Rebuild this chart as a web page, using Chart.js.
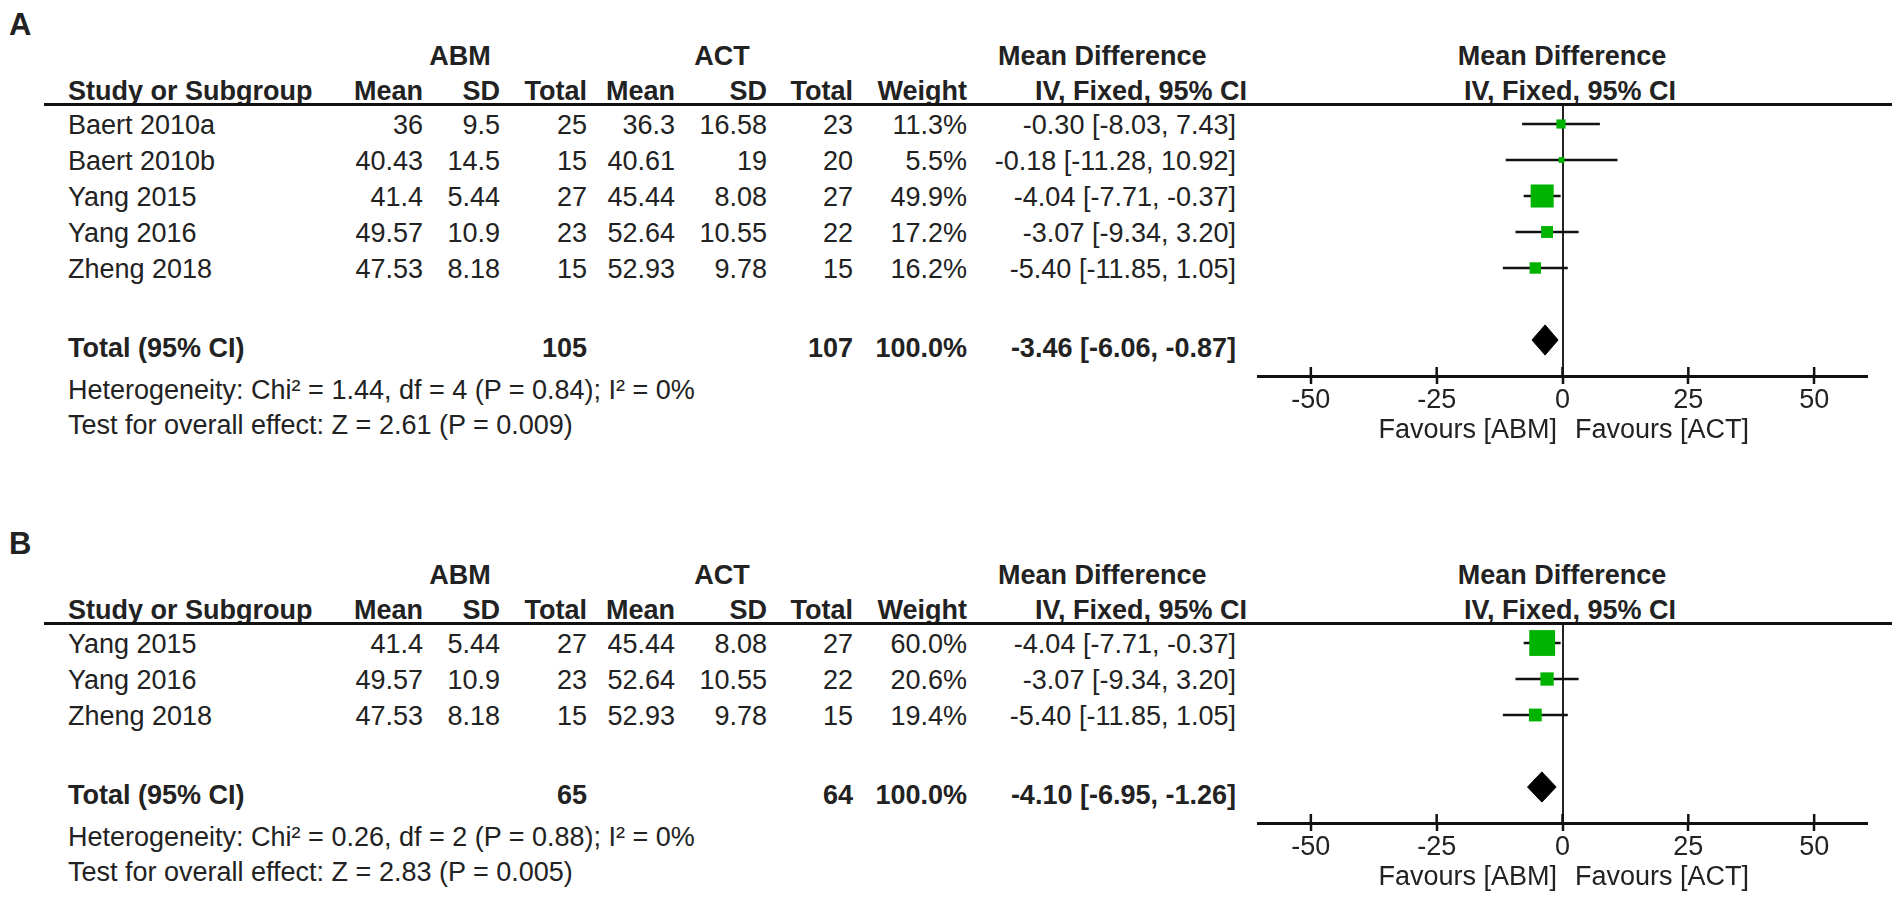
<!DOCTYPE html>
<html lang="en">
<head>
<meta charset="UTF-8">
<title>Forest plot: ABM vs ACT</title>
<script src="https://cdn.jsdelivr.net/npm/chart.js@4.4.0/dist/chart.umd.min.js"></script>
<style>
    body { margin: 0; background: #fff; }
    #page { position: relative; width: 1904px; height: 908px; overflow: hidden; background: #fff; }
    .txt { position: absolute; font-family: "Liberation Sans", Arial, sans-serif; font-size: 27px; line-height: 27px; color: #222; white-space: nowrap; }
    .b { font-weight: bold; }
    .rule { position: absolute; height: 3px; background: #111; z-index: 2; }
    canvas { position: absolute; }
</style>
</head>
<body>
<div id="page"></div>
<script>
// ---- Panel A data ----
const studiesA = ['Baert 2010a', 'Baert 2010b', 'Yang 2015', 'Yang 2016', 'Zheng 2018'];
const abmMeanA = [36, 40.43, 41.4, 49.57, 47.53];
const abmSdA = [9.5, 14.5, 5.44, 10.9, 8.18];
const abmNA = [25, 15, 27, 23, 15];
const actMeanA = [36.3, 40.61, 45.44, 52.64, 52.93];
const actSdA = [16.58, 19, 8.08, 10.55, 9.78];
const actNA = [23, 20, 27, 22, 15];
const weightA = [11.3, 5.5, 49.9, 17.2, 16.2];
const mdA = [-0.30, -0.18, -4.04, -3.07, -5.40];
const loA = [-8.03, -11.28, -7.71, -9.34, -11.85];
const hiA = [7.43, 10.92, -0.37, 3.20, 1.05];
const totalA = [105, 107];          // ABM total, ACT total
const pooledA = [-3.46, -6.06, -0.87]; // MD, lower, upper
const hetA = 'Heterogeneity: Chi² = 1.44, df = 4 (P = 0.84); I² = 0%';
const testA = 'Test for overall effect: Z = 2.61 (P = 0.009)';

// ---- Panel B data ----
const studiesB = ['Yang 2015', 'Yang 2016', 'Zheng 2018'];
const abmMeanB = [41.4, 49.57, 47.53];
const abmSdB = [5.44, 10.9, 8.18];
const abmNB = [27, 23, 15];
const actMeanB = [45.44, 52.64, 52.93];
const actSdB = [8.08, 10.55, 9.78];
const actNB = [27, 22, 15];
const weightB = [60.0, 20.6, 19.4];
const mdB = [-4.04, -3.07, -5.40];
const loB = [-7.71, -9.34, -11.85];
const hiB = [-0.37, 3.20, 1.05];
const totalB = [65, 64];
const pooledB = [-4.10, -6.95, -1.26];
const hetB = 'Heterogeneity: Chi² = 0.26, df = 2 (P = 0.88); I² = 0%';
const testB = 'Test for overall effect: Z = 2.83 (P = 0.005)';

// x axis ticks
const xTicks = [-50, -25, 0, 25, 50];

const FONT = '"Liberation Sans", Arial, sans-serif';
Chart.defaults.font.family = FONT;

const page = document.getElementById('page');

// column anchors (px)
const COL = { study: 68, abmMean: 423, abmSd: 500, abmN: 587, actMean: 675, actSd: 767, actN: 853, weight: 967, ci: 1236 };
const ROW0 = 135, ROWH = 36, MARK0 = 124;

function put(text, x, base, align, bold, size) {
    size = size || 27;
    const d = document.createElement('div');
    d.className = 'txt' + (bold ? ' b' : '');
    d.textContent = text;
    d.style.fontSize = size + 'px';
    d.style.lineHeight = size + 'px';
    d.style.left = x + 'px';
    d.style.top = (base - size * 0.8465) + 'px';
    if (align === 'right') d.style.transform = 'translateX(-100%)';
    else if (align === 'center') d.style.transform = 'translateX(-50%)';
    page.appendChild(d);
}

function ciText(m, l, h) {
    return m.toFixed(2) + ' [' + l.toFixed(2) + ', ' + h.toFixed(2) + ']';
}

// square side grows with weight
function side(w) { return 2.04 * Math.pow(w, 0.62); }

// draws the short part of each tick above the axis line
const tickStubs = {
    id: 'tickStubs',
    afterDraw(chart) {
        const sx = chart.scales.x;
        const ctx = chart.ctx;
        ctx.save();
        ctx.strokeStyle = '#111';
        ctx.lineWidth = 2.5;
        sx.ticks.forEach(t => {
            const px = sx.getPixelForValue(t.value);
            ctx.beginPath();
            ctx.moveTo(px, sx.top - 9);
            ctx.lineTo(px, sx.top);
            ctx.stroke();
        });
        ctx.restore();
    }
};

function buildPanel(off, letter, studies, abmMean, abmSd, abmN, actMean, actSd, actN, weight, md, lo, hi, total, pooled, het, test) {
    const n = studies.length;
    const base = i => off + ROW0 + ROWH * i;

    put(letter, 9, off + 35, 'left', true, 31);

    // header
    put('ABM', 460, off + 66, 'center', true);
    put('ACT', 722, off + 66, 'center', true);
    put('Mean Difference', 998, off + 66, 'left', true);
    put('Mean Difference', 1562, off + 66, 'center', true);

    put('Study or Subgroup', COL.study, off + 101, 'left', true);
    put('Mean', COL.abmMean, off + 101, 'right', true);
    put('SD', COL.abmSd, off + 101, 'right', true);
    put('Total', COL.abmN, off + 101, 'right', true);
    put('Mean', COL.actMean, off + 101, 'right', true);
    put('SD', COL.actSd, off + 101, 'right', true);
    put('Total', COL.actN, off + 101, 'right', true);
    put('Weight', COL.weight, off + 101, 'right', true);
    put('IV, Fixed, 95% CI', 1035, off + 101, 'left', true);
    put('IV, Fixed, 95% CI', 1570, off + 101, 'center', true);

    const rule = document.createElement('div');
    rule.className = 'rule';
    rule.style.left = '44px';
    rule.style.width = (1892 - 44) + 'px';
    rule.style.top = (off + 103) + 'px';
    page.appendChild(rule);

    // study rows
    for (let i = 0; i < n; i++) {
        put(studies[i], COL.study, base(i), 'left');
        put(String(abmMean[i]), COL.abmMean, base(i), 'right');
        put(String(abmSd[i]), COL.abmSd, base(i), 'right');
        put(String(abmN[i]), COL.abmN, base(i), 'right');
        put(String(actMean[i]), COL.actMean, base(i), 'right');
        put(String(actSd[i]), COL.actSd, base(i), 'right');
        put(String(actN[i]), COL.actN, base(i), 'right');
        put(weight[i].toFixed(1) + '%', COL.weight, base(i), 'right');
        put(ciText(md[i], lo[i], hi[i]), COL.ci, base(i), 'right');
    }

    // total + footer rows
    const tr = n + 1;
    const totBase = off + MARK0 + ROWH * tr + 18;
    put('Total (95% CI)', COL.study, totBase, 'left', true);
    put(String(total[0]), COL.abmN, totBase, 'right', true);
    put(String(total[1]), COL.actN, totBase, 'right', true);
    put('100.0%', COL.weight, totBase, 'right', true);
    put(ciText(pooled[0], pooled[1], pooled[2]), COL.ci, totBase, 'right', true);
    put(het, COL.study, totBase + 42, 'left');
    put(test, COL.study, totBase + 77, 'left');

    // forest plot canvas
    const yMax = tr + 1;
    const plotH = (yMax + (MARK0 - 104) / ROWH) * ROWH;
    const cv = document.createElement('canvas');
    const cw = 704, ch = 24 + plotH + 104;
    cv.width = cw; cv.height = ch;
    cv.style.width = cw + 'px'; cv.style.height = ch + 'px';
    cv.style.left = '1200px';
    cv.style.top = (off + 80) + 'px';
    page.appendChild(cv);

    const axisY = off + 104 + plotH;
    put('Favours [ABM]', 1557, axisY + 63, 'right');
    put('Favours [ACT]', 1575, axisY + 63, 'left');

    const datasets = [];
    datasets.push({
        label: 'effect',
        data: md.map((m, i) => ({ x: m, y: i })),
        pointStyle: 'rect',
        pointRadius: weight.map(w => side(w) / Math.SQRT2),
        backgroundColor: '#00b300',
        borderWidth: 0,
        order: 0
    });
    for (let i = 0; i < n; i++) {
        datasets.push({
            label: 'ci' + i,
            data: [{ x: lo[i], y: i }, { x: hi[i], y: i }],
            showLine: true,
            borderColor: '#111',
            borderWidth: 2.5,
            pointRadius: 0,
            order: 1
        });
    }
    const h = 0.42;
    datasets.push({
        label: 'pooled',
        data: [
            { x: pooled[1], y: tr }, { x: pooled[0], y: tr - h },
            { x: pooled[2], y: tr }, { x: pooled[0], y: tr + h }, { x: pooled[1], y: tr }
        ],
        showLine: true,
        fill: 'shape',
        backgroundColor: '#000',
        borderColor: '#000',
        borderWidth: 1,
        pointRadius: 0,
        tension: 0,
        order: 0
    });

    new Chart(cv, {
        type: 'scatter',
        data: { datasets: datasets },
        plugins: [tickStubs],
        options: {
            responsive: false,
            animation: false,
            events: [],
            layout: { padding: { left: 58, right: 37, top: 24, bottom: 44 } },
            plugins: { legend: { display: false }, tooltip: { enabled: false } },
            scales: {
                x: {
                    type: 'linear',
                    min: -60.5,
                    max: 60.5,
                    afterBuildTicks: s => { s.ticks = xTicks.map(v => ({ value: v })); },
                    afterFit: s => { s.height = 60; },
                    grid: {
                        color: c => (c.tick && c.tick.value === 0) ? '#222' : 'rgba(0,0,0,0)',
                        lineWidth: 2,
                        drawTicks: true,
                        tickLength: 8,
                        tickColor: '#111',
                        tickWidth: 2.5
                    },
                    border: { display: true, color: '#111', width: 3 },
                    ticks: {
                        color: '#222',
                        font: { size: 27, family: FONT },
                        padding: 0,
                        maxRotation: 0,
                        callback: v => String(v)
                    }
                },
                y: {
                    type: 'linear',
                    display: false,
                    reverse: true,
                    min: -(MARK0 - 104) / ROWH,
                    max: yMax
                }
            }
        }
    });
}

buildPanel(0, 'A', studiesA, abmMeanA, abmSdA, abmNA, actMeanA, actSdA, actNA, weightA, mdA, loA, hiA, totalA, pooledA, hetA, testA);
buildPanel(519, 'B', studiesB, abmMeanB, abmSdB, abmNB, actMeanB, actSdB, actNB, weightB, mdB, loB, hiB, totalB, pooledB, hetB, testB);
</script>
</body>
</html>
